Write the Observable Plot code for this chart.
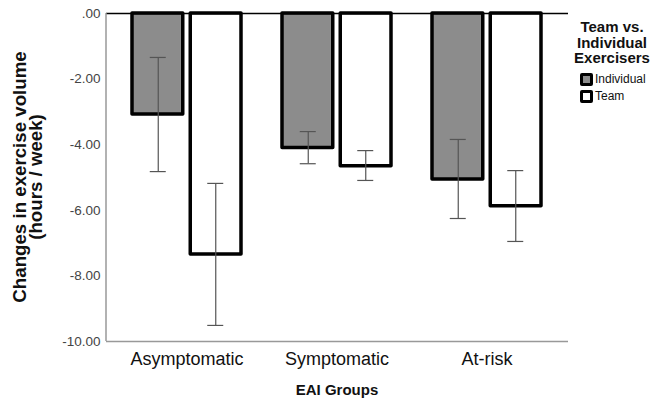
<!DOCTYPE html>
<html>
<head>
<meta charset="utf-8">
<script src="https://cdn.jsdelivr.net/npm/d3@7"></script>
<script src="https://cdn.jsdelivr.net/npm/@observablehq/plot@0.6"></script>
<style>
  body { margin: 0; background: #fff; font-family: "Liberation Sans", Arial, sans-serif; }
  #wrap { position: relative; width: 653px; height: 400px; }
  #legend { position: absolute; left: 568px; top: 19px; width: 88px; font-family: "Liberation Sans", Arial, sans-serif; color: #111; }
  #legend .title { font-weight: bold; font-size: 15px; line-height: 15.5px; text-align: center; margin-bottom: 5px; }
  #legend .item { display: flex; align-items: center; font-size: 12px; height: 17px; margin-left: 12px; }
  #legend .sw { width: 7px; height: 7px; border: 3.5px solid #000; border-radius: 2px; margin-right: 2px; }
</style>
</head>
<body>
<div id="wrap"></div>
<script>
const groups = ["Asymptomatic", "Symptomatic", "At-risk"];
const series = ["Individual", "Team"];
const individualMean = [-3.08, -4.10, -5.06];
const individualLow  = [-4.82, -4.58, -6.25];
const individualHigh = [-1.34, -3.60, -3.84];
const teamMean = [-7.35, -4.66, -5.88];
const teamLow  = [-9.51, -5.09, -6.95];
const teamHigh = [-5.18, -4.18, -4.79];
const yTicks = [0, -2, -4, -6, -8, -10];
const colors = {Individual: "#8c8c8c", Team: "#ffffff"};

const data = [];
groups.forEach((g, i) => {
  data.push({group: g, series: "Individual", mean: individualMean[i], low: individualLow[i], high: individualHigh[i]});
  data.push({group: g, series: "Team", mean: teamMean[i], low: teamLow[i], high: teamHigh[i]});
});
const ind = data.filter(d => d.series === "Individual");
const team = data.filter(d => d.series === "Team");

const W = 653, H = 400, ML = 106, MR = 85, MT = 13, MB = 59;
const xOpts = {type: "band", domain: groups, paddingInner: 0.26, paddingOuter: 0.17};
const xs = Plot.scale({x: {...xOpts, range: [ML, W - MR]}});
const bw = xs.bandwidth;
const off = bw / 4 + 1;
const cap = 8;
const font = "'Liberation Sans', Arial, sans-serif";

const chart = Plot.plot({
  width: W, height: H,
  marginLeft: ML, marginRight: MR, marginTop: MT, marginBottom: MB,
  style: {fontFamily: font, background: "#fff"},
  x: {...xOpts, axis: null},
  y: {domain: [-10, 0], axis: null},
  marks: [
    Plot.axisY({ticks: yTicks, tickSize: 0, tickPadding: 6, fontSize: 13.5, fill: "#444",
      tickFormat: d => d === 0 ? ".00" : d.toFixed(2), label: null}),
    Plot.axisX({tickSize: 0, tickPadding: 11, fontSize: 18, fill: "#111", label: null}),
    Plot.barY(ind, {x: "group", y: "mean", fill: colors.Individual, stroke: "#000", strokeWidth: 3.5,
      strokeLinejoin: "round", insetLeft: 1, insetRight: bw / 2 + 3.75}),
    Plot.barY(team, {x: "group", y: "mean", fill: colors.Team, stroke: "#000", strokeWidth: 3.5,
      strokeLinejoin: "round", insetLeft: bw / 2 + 3.75, insetRight: 1}),
    Plot.ruleY([0], {stroke: "#000", strokeWidth: 1.5}),
    Plot.ruleY([-10], {stroke: "#999", strokeWidth: 1.5}),
    Plot.ruleX(ind, {x: "group", y1: "low", y2: "high", dx: -off, stroke: "#555", strokeWidth: 1.2}),
    Plot.ruleX(team, {x: "group", y1: "low", y2: "high", dx: off, stroke: "#555", strokeWidth: 1.2}),
    Plot.tickY(ind, {x: "group", y: "low", dx: -off, insetLeft: bw / 2 - cap, insetRight: bw / 2 - cap, stroke: "#555", strokeWidth: 1.2}),
    Plot.tickY(ind, {x: "group", y: "high", dx: -off, insetLeft: bw / 2 - cap, insetRight: bw / 2 - cap, stroke: "#555", strokeWidth: 1.2}),
    Plot.tickY(team, {x: "group", y: "low", dx: off, insetLeft: bw / 2 - cap, insetRight: bw / 2 - cap, stroke: "#555", strokeWidth: 1.2}),
    Plot.tickY(team, {x: "group", y: "high", dx: off, insetLeft: bw / 2 - cap, insetRight: bw / 2 - cap, stroke: "#555", strokeWidth: 1.2})
  ]
});

const svg = d3.select(chart);
// left axis line
svg.append("line").attr("x1", ML).attr("x2", ML).attr("y1", MT).attr("y2", H - MB)
  .attr("stroke", "#999").attr("stroke-width", 1.5);

const yt = svg.append("text")
  .attr("transform", `translate(0,${(MT + H - MB) / 2}) rotate(-90)`)
  .attr("text-anchor", "middle")
  .attr("font-weight", "bold").attr("font-size", 18.7).attr("fill", "#111")
  .attr("font-family", font);
yt.append("tspan").attr("x", 0).attr("y", 25.5).text("Changes in exercise volume");
yt.append("tspan").attr("x", 0).attr("y", 42).text("(hours / week)");

svg.append("text")
  .attr("x", (ML + W - MR) / 2).attr("y", 395)
  .attr("text-anchor", "middle")
  .attr("font-weight", "bold").attr("font-size", 15).attr("fill", "#111")
  .attr("font-family", font)
  .text("EAI Groups");

const wrap = document.getElementById("wrap");
wrap.appendChild(chart);

const legend = document.createElement("div");
legend.id = "legend";
legend.innerHTML = `<div class="title">Team vs.<br>Individual<br>Exercisers</div>` +
  series.map(s => `<div class="item"><span class="sw" style="background:${colors[s]}"></span>${s}</div>`).join("");
wrap.appendChild(legend);
</script>
</body>
</html>
